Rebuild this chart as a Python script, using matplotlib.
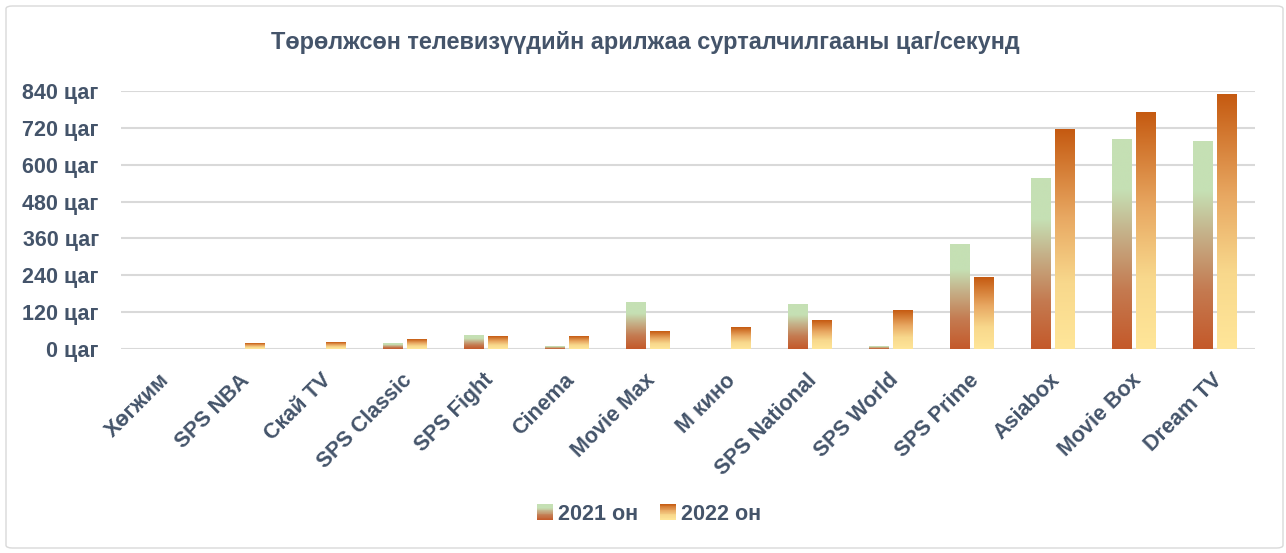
import numpy as np
import matplotlib.pyplot as plt
import matplotlib.transforms as mtransforms
from matplotlib.colors import LinearSegmentedColormap
from matplotlib.patches import Rectangle, FancyBboxPatch
from matplotlib.legend_handler import HandlerBase

# data (hours)
channels = ['Хөгжим', 'SPS NBA', 'Скай TV', 'SPS Classic', 'SPS Fight', 'Cinema',
            'Movie Max', 'М кино', 'SPS National', 'SPS World', 'SPS Prime',
            'Asiabox', 'Movie Box', 'Dream TV']
hours_2021 = [0, 0, 0, 18, 44, 9, 152, 0, 145, 9, 341, 556, 683, 676]
hours_2022 = [0, 18, 22, 31, 41, 41, 57, 70, 93, 126, 233, 715, 771, 829]
series_names = ['2021 он', '2022 он']
y_ticks = [0, 120, 240, 360, 480, 600, 720, 840]
title = 'Төрөлжсөн телевизүүдийн арилжаа сурталчилгааны цаг/секунд'

TXT = '#44546A'
plt.rcParams['font.family'] = ['Liberation Sans', 'DejaVu Sans']
plt.rcParams['font.weight'] = 'bold'

# gradients bottom -> top
cmap21 = LinearSegmentedColormap.from_list('g21', [(0, '#C4592A'), (0.28, '#C47A50'),
                                                   (0.55, '#C6B088'), (0.76, '#C5E0B4'),
                                                   (1, '#C5E0B4')])
cmap22 = LinearSegmentedColormap.from_list('g22', [(0, '#FFE699'), (0.3, '#F8D88C'),
                                                   (0.6, '#E8A862'), (1, '#C55A11')])
grad = np.linspace(0, 1, 256).reshape(-1, 1)


class GradHandler(HandlerBase):
    def __init__(self, cmap):
        super().__init__()
        self.cmap = cmap

    def create_artists(self, legend, orig_handle, xdescent, ydescent, width, height, fontsize, trans):
        n = 20
        side = height * 1.05
        x0 = -xdescent + (width - side)
        y0 = -ydescent - (side - height) / 2
        arts = []
        for i in range(n):
            r = Rectangle((x0, y0 + side * i / n), side, side / n + 0.3,
                          facecolor=self.cmap((i + 0.5) / n), edgecolor='none', transform=trans)
            arts.append(r)
        return arts


fig = plt.figure(figsize=(12.86, 5.53), dpi=100)
ax = fig.add_axes([121 / 1286, 1 - 349 / 553, (1255 - 121) / 1286, (349 - 91) / 553])

x = np.arange(len(channels))
w = 0.235
off = 0.143
for xs, vals, cm in [(x - off, hours_2021, cmap21), (x + off, hours_2022, cmap22)]:
    for xi, v in zip(xs, vals):
        if v > 0:
            ax.imshow(grad, extent=[xi - w / 2, xi + w / 2, 0, v], origin='lower',
                      cmap=cm, aspect='auto', zorder=3, interpolation='bilinear')

ax.set_xlim(-0.5, len(channels) - 0.5)
ax.set_ylim(0, 840)
ax.set_yticks(y_ticks)
ax.set_yticklabels([f'{t} цаг' for t in y_ticks])
ax.yaxis.grid(True, color='#D9D9D9', lw=1.5, zorder=0)
ax.set_axisbelow(True)
for s in ax.spines.values():
    s.set_visible(False)
ax.tick_params(axis='y', length=0, pad=16, labelsize=15.5, labelcolor=TXT)
ax.tick_params(axis='x', length=0, labelsize=15.5, labelcolor=TXT)
ax.set_xticks(x)
ax.set_xticklabels(channels, rotation=45, ha='right', rotation_mode='anchor')
shift = mtransforms.ScaledTranslation(-0.03, -0.16, fig.dpi_scale_trans)
for lab in ax.get_xticklabels():
    lab.set_transform(lab.get_transform() + shift)

fig.text(0.502, 1 - 42 / 553, title, ha='center', va='center', fontsize=16.9, color=TXT, fontweight='bold')

h1 = Rectangle((0, 0), 1, 1)
h2 = Rectangle((0, 0), 1, 1)
fig.legend([h1, h2], series_names, loc='center', bbox_to_anchor=(649 / 1286, 1 - 514 / 553), ncol=2,
           frameon=False, fontsize=15.5, labelcolor=TXT, handlelength=0.75, handletextpad=0.25,
           columnspacing=1.0, handler_map={h1: GradHandler(cmap21), h2: GradHandler(cmap22)})

fig.patches.append(FancyBboxPatch((6 / 1286, 1 - 548 / 553), 1277 / 1286, 542 / 553,
                                  boxstyle='round,pad=0,rounding_size=0.005',
                                  transform=fig.transFigure, fill=False, edgecolor='#D9D9D9', lw=1))

fig.savefig('out.png', dpi=100, facecolor='white')
